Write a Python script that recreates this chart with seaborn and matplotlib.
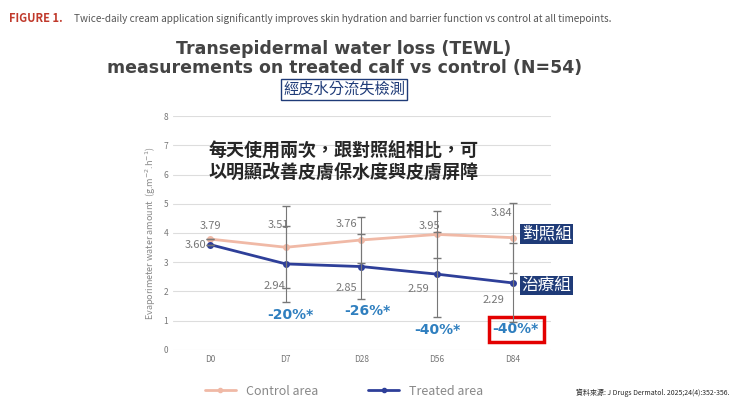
import matplotlib
matplotlib.use("Agg")
import matplotlib.pyplot as plt
import seaborn as sns
import pandas as pd
from matplotlib.patches import Rectangle
from matplotlib.lines import Line2D

days = ["D0", "D7", "D28", "D56", "D84"]
control = [3.79, 3.51, 3.76, 3.95, 3.84]
treated = [3.60, 2.94, 2.85, 2.59, 2.29]
control_err = [0, 1.4, 0.8, 0.8, 1.2]
treated_err = [0, 1.3, 1.1, 1.45, 1.35]
pct_labels = ["", "-20%*", "-26%*", "-40%*", "-40%*"]

sns.set_style("white")
plt.rcParams['font.family'] = ['Noto Sans CJK TC', 'DejaVu Sans']

df = pd.DataFrame({"day": days * 2, "value": control + treated,
                   "group": ["Control area"] * 5 + ["Treated area"] * 5})

fig = plt.figure(figsize=(7.4, 4.16), dpi=100)
ax = fig.add_axes([0.234, 0.159, 0.51, 0.562])
pal = {"Control area": "#f0b9a6", "Treated area": "#2e3f99"}
sns.lineplot(data=df, x="day", y="value", hue="group", palette=pal, marker="o",
             markersize=5, markeredgewidth=0, linewidth=2, ax=ax, legend=False, sort=False)
x = range(len(days))
ax.errorbar(x, control, yerr=control_err, fmt="none", ecolor="#777777", elinewidth=0.8, capsize=3)
ax.errorbar(x, treated, yerr=treated_err, fmt="none", ecolor="#777777", elinewidth=0.8, capsize=3)
ax.set_ylim(0, 8)
ax.set_xlim(-0.49, 4.5)
ax.set_yticks(range(9))
ax.yaxis.grid(True, color="#dddddd", linewidth=0.8)
for s in ax.spines.values():
    s.set_visible(False)
ax.tick_params(labelsize=6, colors="#777777", length=0)
ax.set_xlabel("")
ax.set_ylabel("Evaporimeter water amount  (g.m$^{-2}$.h$^{-1}$)", fontsize=6.5, color="#888888")

coffs = [(0, 0.45), (-0.1, 0.75), (-0.2, 0.55), (-0.1, 0.3), (-0.15, 0.85)]
toffs = [(-0.2, 0.0), (-0.15, -0.75), (-0.2, -0.75), (-0.25, -0.5), (-0.25, -0.6)]
for i in x:
    ax.text(i + coffs[i][0], control[i] + coffs[i][1], f"{control[i]:.2f}", fontsize=8,
            color="#777777", ha="center", va="center")
    ax.text(i + toffs[i][0], treated[i] + toffs[i][1], f"{treated[i]:.2f}", fontsize=8,
            color="#777777", ha="center", va="center")
ppos = [None, (0.06, 1.2), (0.08, 1.33), (0.0, 0.68), (0.04, 0.72)]
for i in x:
    if pct_labels[i]:
        ax.text(i + ppos[i][0], ppos[i][1], pct_labels[i], fontsize=10, color="#2f7fbf",
                fontweight="bold", ha="center", va="center", family=["DejaVu Sans"])
ax.add_patch(Rectangle((3.68, 0.27), 0.73, 0.85, fill=False, edgecolor="#e30000", linewidth=2.5, clip_on=False))

ax.text(1.76, 6.45, "每天使用兩次，跟對照組相比，可\n以明顯改善皮膚保水度與皮膚屏障", fontsize=13,
        fontweight="bold", ha="center", va="center", linespacing=1.2)
ax.text(4.12, 3.97, "對照組", fontsize=12, color="white", ha="left", va="center",
        bbox=dict(boxstyle="square,pad=0.08", facecolor="#1f3b78", edgecolor="none"), clip_on=False)
ax.text(4.12, 2.2, "治療組", fontsize=12, color="white", ha="left", va="center",
        bbox=dict(boxstyle="square,pad=0.08", facecolor="#1f3b78", edgecolor="none"), clip_on=False)

fig.text(0.012, 0.955, "FIGURE 1.", fontsize=8, color="#c0392b", fontweight="bold", ha="left", va="center")
fig.text(0.10, 0.955, "Twice-daily cream application significantly improves skin hydration and barrier function vs control at all timepoints.",
         fontsize=7.2, color="#555555", ha="left", va="center")
fig.text(0.465, 0.86, "Transepidermal water loss (TEWL)\nmeasurements on treated calf vs control (N=54)",
         fontsize=12.5, fontweight="bold", color="#444444", ha="center", va="center", linespacing=1.05,
         family=["DejaVu Sans"])
fig.text(0.465, 0.785, "經皮水分流失檢測", fontsize=11, color="#1f3b78", ha="center", va="center",
         bbox=dict(boxstyle="square,pad=0.12", facecolor="white", edgecolor="#1f3b78", linewidth=1))

h = [Line2D([], [], color=pal["Control area"], marker="o", markersize=3, linewidth=2),
     Line2D([], [], color=pal["Treated area"], marker="o", markersize=3, linewidth=2)]
fig.legend(h, ["Control area", "Treated area"], loc="center", bbox_to_anchor=(0.465, 0.06), ncol=2,
           frameon=False, fontsize=9, labelcolor="#888888", handlelength=2.5, columnspacing=4)
fig.text(0.985, 0.055, "資料來源: J Drugs Dermatol. 2025;24(4):352-356.", fontsize=5, ha="right", va="center")
fig.savefig("out.png", dpi=100)
